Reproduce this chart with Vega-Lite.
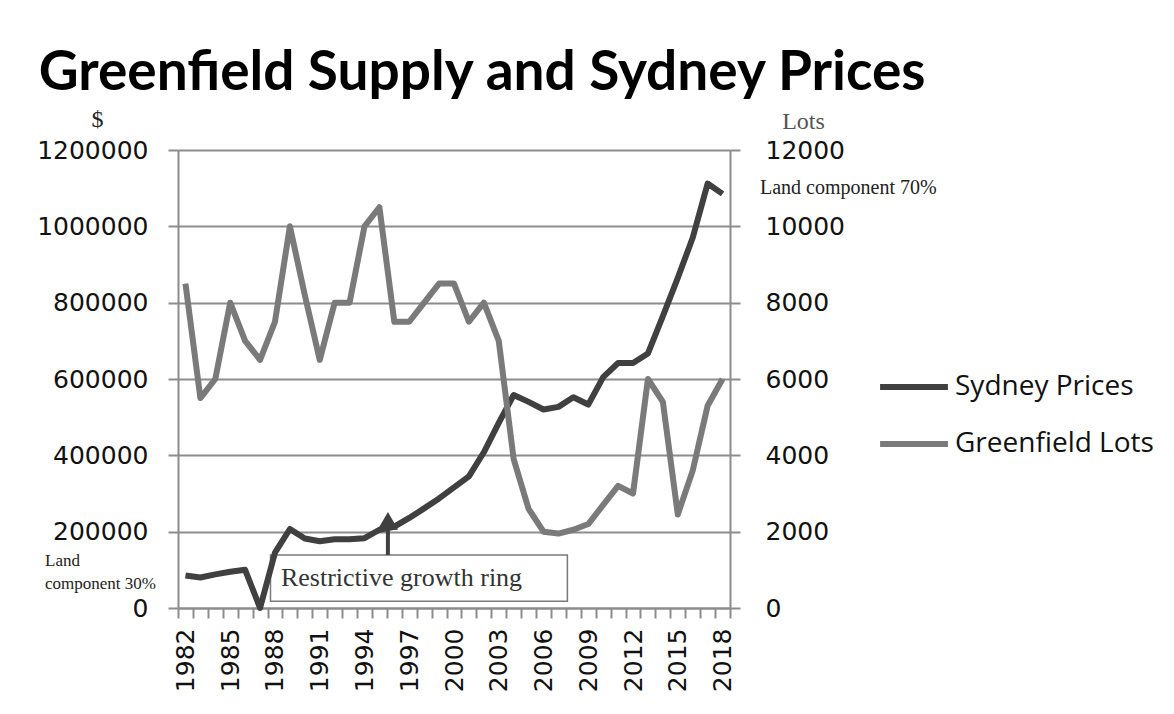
{
  "$schema": "https://vega.github.io/schema/vega-lite/v6.json",
  "width": 552,
  "height": 458,
  "autosize": {"type": "none"},
  "padding": {"left": 178, "top": 150, "right": 444, "bottom": 106},
  "background": "white",
  "title": {
    "text": "Greenfield Supply and Sydney Prices",
    "anchor": "start",
    "font": "Lato",
    "fontSize": 55,
    "fontWeight": "bold",
    "color": "#000000",
    "dx": 2,
    "offset": 5
  },
  "datasets": {
    "main": [
      {"year": 1982, "price": 85000, "lots": 8500},
      {"year": 1983, "price": 80000, "lots": 5500},
      {"year": 1984, "price": 88000, "lots": 6000},
      {"year": 1985, "price": 95000, "lots": 8000},
      {"year": 1986, "price": 100000, "lots": 7000},
      {"year": 1987, "price": 0, "lots": 6500},
      {"year": 1988, "price": 145000, "lots": 7500},
      {"year": 1989, "price": 207000, "lots": 10000},
      {"year": 1990, "price": 182000, "lots": 8200},
      {"year": 1991, "price": 175000, "lots": 6500},
      {"year": 1992, "price": 180000, "lots": 8000},
      {"year": 1993, "price": 180000, "lots": 8000},
      {"year": 1994, "price": 183000, "lots": 10000},
      {"year": 1995, "price": 205000, "lots": 10500},
      {"year": 1996, "price": 213000, "lots": 7500},
      {"year": 1997, "price": 236000, "lots": 7500},
      {"year": 1998, "price": 261000, "lots": 8000},
      {"year": 1999, "price": 287000, "lots": 8500},
      {"year": 2000, "price": 316000, "lots": 8500},
      {"year": 2001, "price": 345000, "lots": 7500},
      {"year": 2002, "price": 408000, "lots": 8000},
      {"year": 2003, "price": 485000, "lots": 7000},
      {"year": 2004, "price": 558000, "lots": 3900},
      {"year": 2005, "price": 540000, "lots": 2600},
      {"year": 2006, "price": 520000, "lots": 2000},
      {"year": 2007, "price": 527000, "lots": 1950},
      {"year": 2008, "price": 552000, "lots": 2050},
      {"year": 2009, "price": 533000, "lots": 2200},
      {"year": 2010, "price": 605000, "lots": 2700},
      {"year": 2011, "price": 642000, "lots": 3200},
      {"year": 2012, "price": 642000, "lots": 3000},
      {"year": 2013, "price": 667000, "lots": 6000},
      {"year": 2014, "price": 765000, "lots": 5400},
      {"year": 2015, "price": 865000, "lots": 2450},
      {"year": 2016, "price": 970000, "lots": 3600},
      {"year": 2017, "price": 1112000, "lots": 5300},
      {"year": 2018, "price": 1085000, "lots": 6000}
    ],
    "box": [{"x1": 1987.7, "x2": 2007.6, "y1": 18000, "y2": 139000}],
    "boxtext": [{"x": 1988.4, "y": 78000, "label": "Restrictive growth ring"}],
    "arrow": [{"x": 1995.57, "y1": 139000, "y2": 222000, "tip": 228000}],
    "note70": [{"x": 2018.5, "y": 1100000, "label": "Land component 70%"}],
    "note30": [
      {"x": 1981.5, "y": 122000, "label": "Land"},
      {"x": 1981.5, "y": 64000, "label": "component  30%"}
    ]
  },
  "config": {
    "view": {"stroke": null},
    "axis": {
      "domainColor": "#8c8c8c",
      "domainWidth": 2,
      "tickColor": "#8c8c8c",
      "tickWidth": 2,
      "tickSize": 10,
      "gridColor": "#8c8c8c",
      "gridWidth": 2,
      "labelFont": "DejaVu Sans",
      "labelFontSize": 25,
      "labelColor": "#111111"
    },
    "axisX": {"labelOverlap": false, "tickCount": 100}
  },
  "layer": [
    {
      "layer": [
        {
          "data": {"name": "box"},
          "mark": {"type": "rect", "fill": "white", "stroke": "#7a7a7a", "strokeWidth": 1.5},
          "encoding": {
            "x": {
              "field": "x1",
              "type": "quantitative",
              "scale": {"domain": [1981.5, 2018.5], "nice": false, "zero": false},
              "axis": {
                "values": [1981.5,1982.5,1983.5,1984.5,1985.5,1986.5,1987.5,1988.5,1989.5,1990.5,1991.5,1992.5,1993.5,1994.5,1995.5,1996.5,1997.5,1998.5,1999.5,2000.5,2001.5,2002.5,2003.5,2004.5,2005.5,2006.5,2007.5,2008.5,2009.5,2010.5,2011.5,2012.5,2013.5,2014.5,2015.5,2016.5,2017.5,2018.5],
                "tickCount": 100,
                "labelExpr": "((datum.value + 0.5 - 1982) % 3 == 0 && datum.value < 2018) ? format(datum.value + 0.5, 'd') : ''",
                "labelAngle": -90,
                "labelAlign": "right",
                "labelBaseline": "middle",
                "labelOffset": 7.46,
                "labelPadding": 10,
                "labelOverlap": false,
                "labelBound": false,
                "labelFlush": false,
                "grid": false,
                "title": null
              }
            },
            "x2": {"field": "x2"},
            "y": {
              "field": "y1",
              "type": "quantitative",
              "scale": {"domain": [0, 1200000], "nice": false},
              "axis": {
                "values": [0, 200000, 400000, 600000, 800000, 1000000, 1200000],
                "format": "d",
                "grid": true,
                "labelPadding": 20,
                "title": "$",
                "titleAngle": 0,
                "titleFont": "Liberation Serif",
                "titleFontSize": 24,
                "titleFontWeight": "normal",
                "titleColor": "#222222",
                "titleAlign": "center",
                "titleBaseline": "alphabetic",
                "titleX": -81,
                "titleY": -24
              }
            },
            "y2": {"field": "y2"}
          }
        },
        {
          "data": {"name": "boxtext"},
          "mark": {"type": "text", "font": "Liberation Serif", "fontSize": 26, "align": "left", "baseline": "middle", "color": "#333333"},
          "encoding": {
            "x": {"field": "x", "type": "quantitative"},
            "y": {"field": "y", "type": "quantitative"},
            "text": {"field": "label"}
          }
        },
        {
          "data": {"name": "note70"},
          "mark": {"type": "text", "font": "Liberation Serif", "fontSize": 20, "align": "left", "baseline": "middle", "dx": 30, "color": "#222222"},
          "encoding": {
            "x": {"field": "x", "type": "quantitative"},
            "y": {"field": "y", "type": "quantitative"},
            "text": {"field": "label"}
          }
        },
        {
          "data": {"name": "note30"},
          "mark": {"type": "text", "font": "Liberation Serif", "fontSize": 17, "align": "left", "baseline": "middle", "dx": -133, "color": "#222222"},
          "encoding": {
            "x": {"field": "x", "type": "quantitative"},
            "y": {"field": "y", "type": "quantitative"},
            "text": {"field": "label"}
          }
        },
        {
          "data": {"name": "main"},
          "mark": {"type": "line", "strokeWidth": 6, "strokeJoin": "round"},
          "encoding": {
            "x": {"field": "year", "type": "quantitative"},
            "y": {"field": "price", "type": "quantitative"},
            "color": {
              "datum": "Sydney Prices",
              "scale": {"domain": ["Sydney Prices", "Greenfield Lots"], "range": ["#404040", "#7a7a7a"]},
              "legend": {
                "orient": "none",
                "legendX": 699,
                "legendY": 200,
                "title": null,
                "symbolType": "stroke",
                "symbolSize": 4600,
                "symbolStrokeWidth": 6,
                "labelFont": "Open Sans",
                "labelFontSize": 28,
                "labelColor": "#111111",
                "labelOffset": 4,
                "labelLimit": 0,
                "rowPadding": 6
              }
            }
          }
        },
        {
          "data": {"name": "arrow"},
          "mark": {"type": "rule", "strokeWidth": 4, "color": "#404040"},
          "encoding": {
            "x": {"field": "x", "type": "quantitative"},
            "y": {"field": "y1", "type": "quantitative"},
            "y2": {"field": "y2"}
          }
        },
        {
          "data": {"name": "arrow"},
          "mark": {"type": "point", "shape": "triangle-up", "filled": true, "size": 420, "color": "#404040", "opacity": 1},
          "encoding": {
            "x": {"field": "x", "type": "quantitative"},
            "y": {"field": "tip", "type": "quantitative"}
          }
        }
      ]
    },
    {
      "data": {"name": "main"},
      "mark": {"type": "line", "strokeWidth": 6, "strokeJoin": "round"},
      "encoding": {
        "x": {
          "field": "year",
          "type": "quantitative",
          "axis": {
            "values": [1981.5,1982.5,1983.5,1984.5,1985.5,1986.5,1987.5,1988.5,1989.5,1990.5,1991.5,1992.5,1993.5,1994.5,1995.5,1996.5,1997.5,1998.5,1999.5,2000.5,2001.5,2002.5,2003.5,2004.5,2005.5,2006.5,2007.5,2008.5,2009.5,2010.5,2011.5,2012.5,2013.5,2014.5,2015.5,2016.5,2017.5,2018.5],
            "tickCount": 100,
            "labelExpr": "((datum.value + 0.5 - 1982) % 3 == 0 && datum.value < 2018) ? format(datum.value + 0.5, 'd') : ''",
            "labelAngle": -90,
            "labelAlign": "right",
            "labelBaseline": "middle",
            "labelOffset": 7.46,
            "labelPadding": 10,
            "labelOverlap": false,
            "labelBound": false,
            "labelFlush": false,
            "grid": false,
            "title": null
          }
        },
        "y": {
          "field": "lots",
          "type": "quantitative",
          "scale": {"domain": [0, 12000], "nice": false},
          "axis": {
            "orient": "right",
            "values": [0, 2000, 4000, 6000, 8000, 10000, 12000],
            "format": "d",
            "grid": false,
            "labelPadding": 25,
            "title": "Lots",
            "titleAngle": 0,
            "titleFont": "Liberation Serif",
            "titleFontSize": 24,
            "titleFontWeight": "normal",
            "titleColor": "#555555",
            "titleAlign": "center",
            "titleBaseline": "alphabetic",
            "titleX": 73,
            "titleY": -22
          }
        },
        "color": {"datum": "Greenfield Lots"}
      }
    }
  ],
  "resolve": {"scale": {"y": "independent"}}
}
